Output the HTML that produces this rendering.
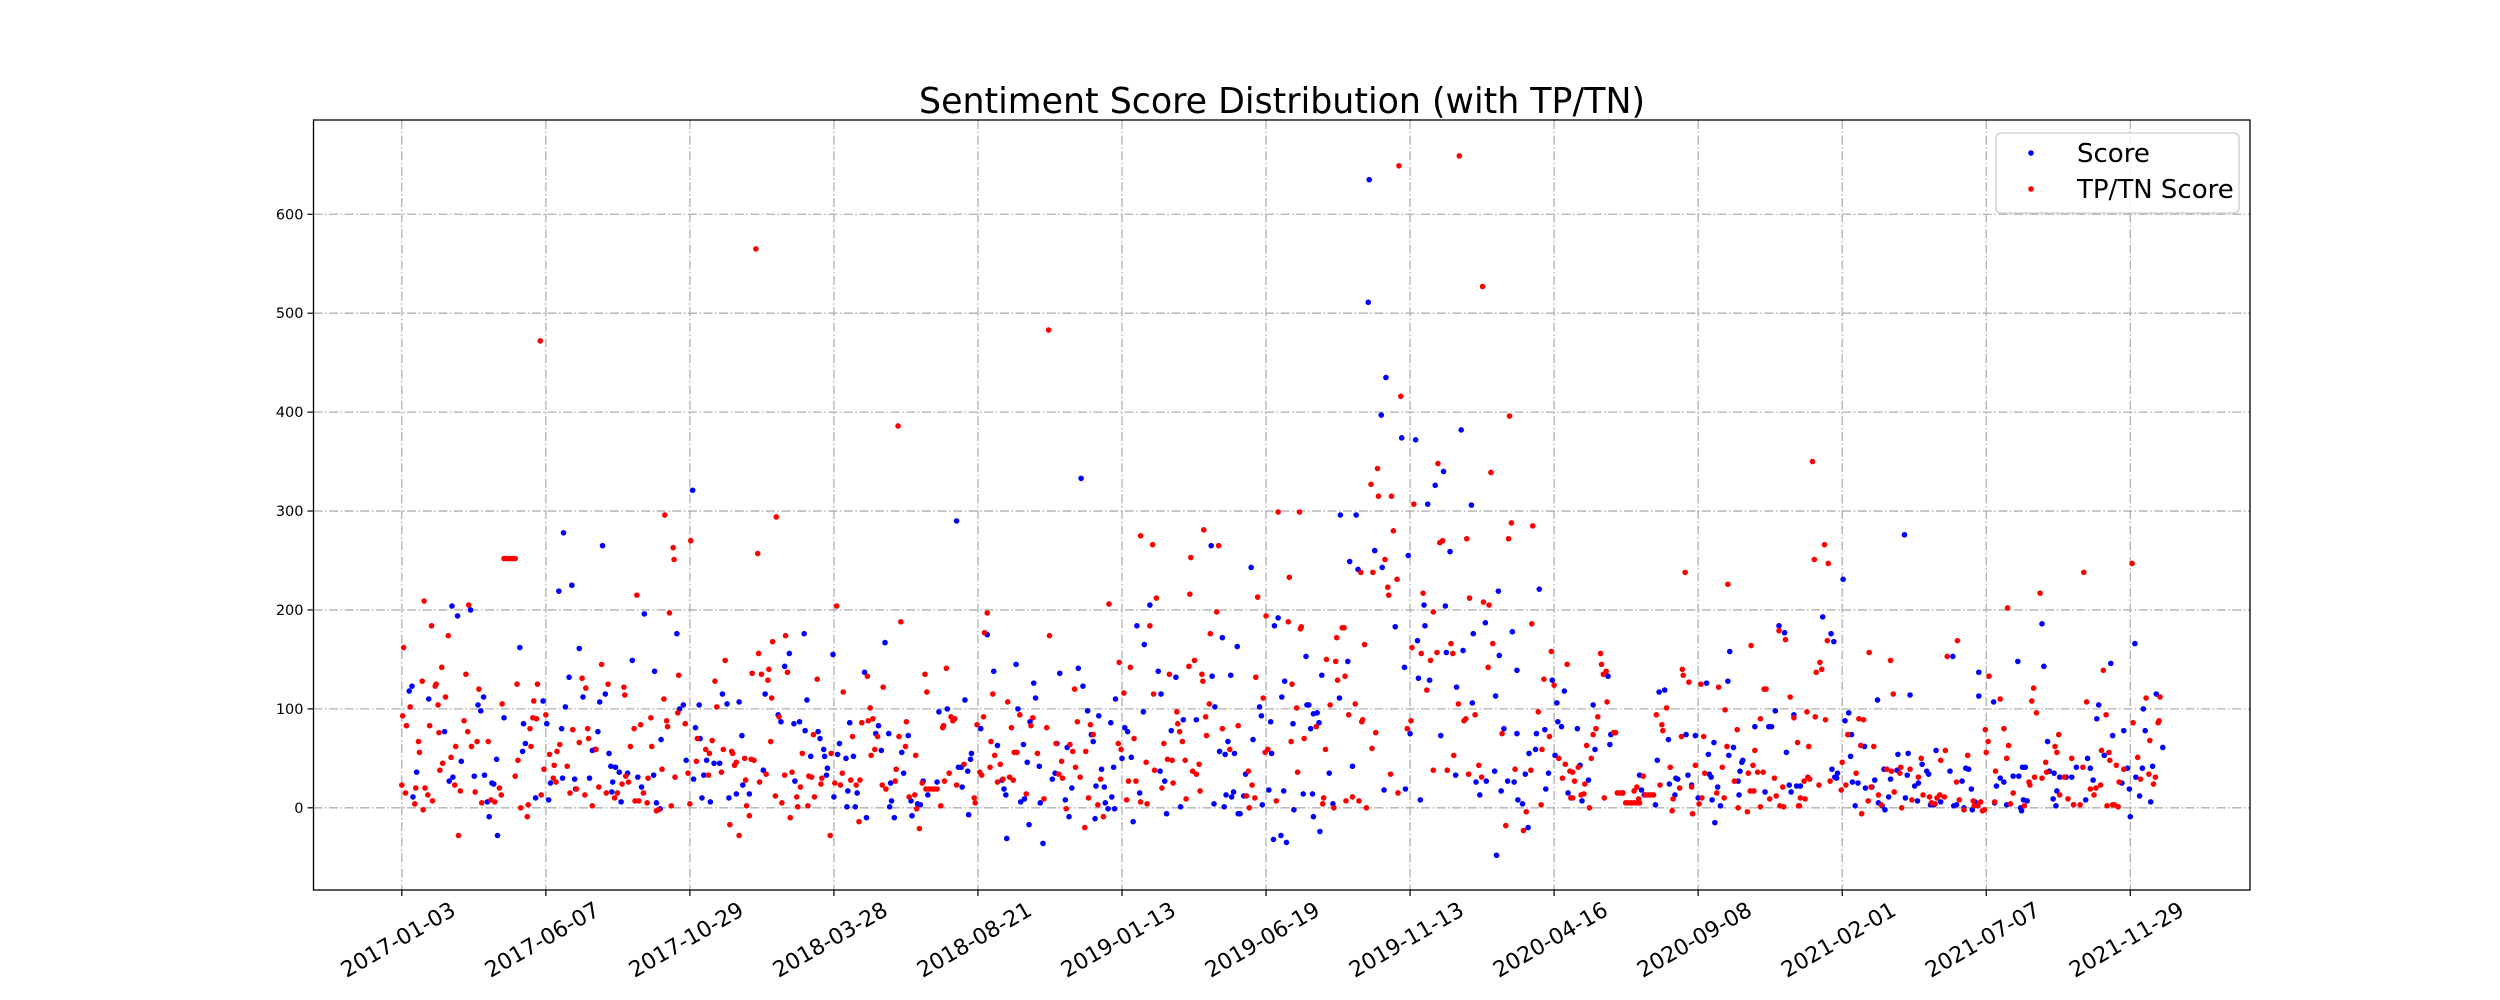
<!DOCTYPE html>
<html><head><meta charset="utf-8"><title>Sentiment Score Distribution</title>
<style>html,body{margin:0;padding:0;background:#fff;}svg{display:block;font-family:"DejaVu Sans","Liberation Sans",sans-serif;}</style>
</head><body>
<svg id="chart" width="2500" height="1000" viewBox="0 0 2500 1000" xmlns="http://www.w3.org/2000/svg">
<rect x="0" y="0" width="2500" height="1000" fill="#fff"/>
<text x="1282" y="113" font-size="36" text-anchor="middle" textLength="726" lengthAdjust="spacingAndGlyphs" fill="#000">Sentiment Score Distribution (with TP/TN)</text>
<g id="grid"></g>
<g id="axes"></g>
<g id="score-series"></g>
<g id="tptn-series"></g>
<g>
<rect x="1996" y="133" width="243" height="80" rx="5" fill="#fff" fill-opacity="0.8" stroke="#cccccc" stroke-width="1.3"/>
<circle cx="2031" cy="153" r="2.8" fill="#0000ff"/>
<text x="2077" y="162" font-size="26" fill="#000">Score</text>
<circle cx="2031" cy="189" r="2.8" fill="#ff0000"/>
<text x="2077" y="198" font-size="26" fill="#000">TP/TN Score</text>
</g>
</svg>
<script>
const tickLabels = ["2017-01-03","2017-06-07","2017-10-29","2018-03-28","2018-08-21","2019-01-13","2019-06-19","2019-11-13","2020-04-16","2020-09-08","2021-02-01","2021-07-07","2021-11-29"];
const tickIndexStep = 155;
const yTicks = [0,100,200,300,400,500,600];
const scorePoints = [
[8,118],[11,123],[12,11],[16,36],[29,110],[46,77],[51,27],[54,204],[55,31],[60,194],[64,47],[74,200],[78,32],[82,104],[85,98],[88,112],[89,33],[92,6],[94,-9],[97,25],[99,24],[102,49],[103,-28],[110,91],[127,162],[130,57],[131,85],[133,65],[144,10],[152,108],[156,85],[158,8],[160,25],[169,219],[172,80],[173,30],[174,278],[176,102],[180,132],[183,225],[186,29],[187,19],[191,161],[195,112],[202,30],[205,58],[208,59],[211,77],[213,107],[216,265],[219,115],[223,55],[225,42],[226,16],[227,26],[230,41],[234,36],[236,6],[243,35],[248,149],[254,31],[258,21],[261,196],[271,33],[272,138],[274,5],[278,-1],[279,69],[296,176],[299,100],
[303,104],[306,48],[313,321],[314,29],[316,81],[320,104],[321,70],[323,10],[325,33],[328,48],[332,6],[336,45],[342,45],[345,115],[350,105],[352,10],[360,14],[363,107],[366,73],[367,23],[374,14],[389,38],[391,115],[405,94],[408,87],[412,143],[417,156],[422,85],[423,27],[428,87],[433,176],[434,78],[436,109],[440,52],[448,77],[450,70],[454,59],[455,52],[457,33],[458,40],[464,155],[465,11],[469,54],[471,65],[478,50],[479,1],[480,17],[482,86],[486,52],[488,1],[490,15],[498,137],[500,-10],[510,75],[513,83],[516,58],[520,167],[524,75],[525,1],[526,25],[527,7],[530,-10],[538,56],[540,35],[545,73],[548,7],[549,-8],[555,4],[558,3],[561,27],[566,13],[576,26],[578,97],[587,100],[597,290],[599,41],
[602,41],[603,21],[606,109],[609,37],[610,-7],[612,49],[613,55],[623,80],[630,175],[637,138],[641,63],[646,28],[648,19],[650,13],[651,-31],[661,145],[663,100],[666,6],[669,64],[670,9],[673,46],[675,-17],[676,87],[680,126],[682,111],[686,42],[687,5],[690,-36],[700,29],[703,35],[705,65],[708,136],[714,8],[716,61],[718,-9],[721,20],[728,141],[731,333],[733,123],[738,98],[742,74],[744,67],[746,-11],[747,22],[750,93],[753,39],[756,21],[757,5],[760,-1],[763,86],[764,11],[766,41],[767,-1],[768,110],[775,50],[778,81],[781,77],[785,51],[787,-14],[791,184],[794,15],[798,97],[799,165],[805,205],[814,138],[816,37],[817,115],[821,27],[823,-6],[828,78],[833,132],[838,1],[841,89],[855,89],[871,265],[872,133],[874,4],[875,102],[880,57],[883,172],[885,1],[886,54],[887,13],[889,67],[892,134],[893,11],[895,16],[896,55],[899,163],[900,-6],
[902,-6],[906,12],[908,34],[914,243],[916,69],[923,102],[925,93],[926,3],[933,18],[935,87],[936,55],[938,-32],[939,184],[943,192],[946,-28],[947,112],[949,17],[950,128],[952,-35],[959,85],[960,-2],[970,14],[973,153],[974,104],[976,104],[978,80],[980,14],[981,-9],[981,95],[985,96],[987,86],[988,-24],[990,134],[998,35],[1002,4],[1009,111],[1010,296],[1018,148],[1020,249],[1023,42],[1027,296],[1029,241],[1040,511],[1041,635],[1047,260],[1054,397],[1055,243],[1057,18],[1059,435],[1069,183],[1076,374],[1079,142],[1080,19],[1083,255],[1085,75],[1091,372],[1093,169],[1094,131],[1096,8],[1100,205],[1101,184],[1104,307],[1106,129],[1112,326],[1118,73],[1121,340],[1123,204],[1124,157],[1128,259],[1134,33],[1135,122],[1140,382],[1142,159],[1151,306],[1152,106],[1153,176],[1156,26],[1160,13],[1166,187],[1167,27],[1176,37],[1177,113],[1178,-48],[1180,219],[1181,154],[1183,17],[1186,80],[1190,27],[1195,178],[1197,26],[1200,75],[1200,139],[1201,8],
[1206,4],[1209,34],[1212,-20],[1213,55],[1220,59],[1221,75],[1224,221],[1230,79],[1231,19],[1234,35],[1238,129],[1241,53],[1243,106],[1244,87],[1248,82],[1251,118],[1255,15],[1265,80],[1268,43],[1270,7],[1277,28],[1282,104],[1284,59],[1298,133],[1300,64],[1301,74],[1306,76],[1314,15],[1332,33],[1334,18],[1337,13],[1349,3],[1351,48],[1353,117],[1359,119],[1363,69],[1364,24],[1370,13],[1371,30],[1373,29],[1382,74],[1384,33],[1388,23],[1392,73],[1395,10],[1404,126],[1406,54],[1407,34],[1409,31],[1410,8],[1412,66],[1413,-15],[1416,21],[1419,2],[1427,128],[1428,53],[1429,158],[1433,61],[1438,27],[1439,13],[1440,37],[1442,46],[1443,48],[1456,82],[1467,16],[1471,82],[1474,82],[1478,98],[1482,184],[1488,177],[1490,56],[1493,23],[1495,16],[1498,94],[1501,22],
[1505,22],[1529,193],[1538,176],[1541,168],[1539,39],[1542,31],[1544,30],[1545,35],[1551,231],[1553,88],[1557,96],[1559,52],[1560,74],[1561,26],[1564,2],[1567,25],[1574,62],[1575,20],[1582,21],[1585,28],[1588,109],[1589,5],[1593,2],[1595,39],[1596,-2],[1600,11],[1602,29],[1609,38],[1610,54],[1617,276],[1618,10],[1620,33],[1621,55],[1623,114],[1628,22],[1631,7],[1632,25],[1636,44],[1641,37],[1643,34],[1645,3],[1649,3],[1651,58],[1656,6],[1666,37],[1669,153],[1670,2],[1673,3],[1679,27],[1681,0],[1683,40],[1686,39],[1689,19],[1690,-2],[1693,6],[1697,137],[1697,113],[1713,107],[1714,5],[1716,22],[1720,30],[1724,26],[1727,3],[1734,32],[1740,32],[1739,148],[1742,0],[1743,-3],[1744,41],[1747,41],[1745,8],[1749,7],[1765,186],[1767,143],[1771,67],[1773,37],[1778,35],[1777,9],[1780,2],[1781,17],[1784,31],[1791,31],[1797,31],[1799,3],[1802,41],
[1812,8],[1814,50],[1817,40],[1820,28],[1824,90],[1826,104],[1832,53],[1839,146],[1841,73],[1851,25],[1853,78],[1857,40],[1859,19],[1860,-9],[1865,166],[1866,31],[1870,12],[1873,40],[1874,100],[1876,78],[1882,6],[1884,42],[1888,115],[1895,61]
];
const tptnPoints = [
[2,162],[0,23],[1,93],[4,15],[5,83],[9,102],[14,4],[15,20],[18,67],[19,56],[22,128],[23,-2],[24,209],[25,20],[28,13],[30,83],[32,184],[33,7],[36,123],[37,125],[39,104],[40,76],[41,38],[43,142],[44,45],[47,112],[50,174],[53,51],[57,23],[58,62],[61,-28],[63,17],[67,88],[69,135],[71,77],[72,205],[75,62],[79,16],[81,67],[83,120],[86,5],[93,67],[96,8],[100,6],[105,20],[107,13],[108,105],[110,252],[113,252],[116,252],[119,252],[122,252],[122,32],[124,125],[125,48],[128,0],[135,-9],[136,3],[138,80],[139,62],[141,91],[142,108],[145,90],[146,125],[149,472],[150,13],[153,39],[155,94],[159,54],[163,30],[164,43],[166,26],[167,57],[170,64],[178,42],[181,15],[184,79],[188,19],[191,66],[194,131],[197,13],[198,121],[200,80],[201,70],[205,2],[209,59],[212,21],[215,145],[220,15],[222,125],[229,10],[232,15],[237,24],[239,122],[240,114],[241,32],[244,26],[246,62],[250,80],[251,7],[253,215],[255,7],[257,84],[260,15],[264,5],[265,30],[268,91],[269,62],[274,-3],[276,-2],[280,39],[282,110],[283,296],[285,88],[286,82],[288,197],[290,2],[292,263],[293,251],[294,31],[297,96],[298,134],
[305,85],[308,35],[310,4],[311,270],[317,47],[318,70],[327,59],[330,33],[331,55],[334,68],[337,128],[339,102],[344,36],[346,59],[348,149],[353,-17],[355,57],[356,55],[358,43],[360,46],[363,-28],[369,50],[370,28],[371,2],[374,-8],[376,49],[377,136],[379,48],[381,565],[383,257],[384,156],[385,26],[387,135],[392,34],[394,129],[395,140],[397,67],[398,111],[399,168],[402,12],[403,294],[406,92],[409,5],[412,33],[413,174],[415,137],[418,-10],[420,36],[425,11],[426,1],[429,21],[431,55],[437,2],[438,32],[441,31],[443,74],[444,11],[447,130],[451,24],[452,30],[461,-28],[462,55],[466,25],[468,204],[472,23],[474,35],[475,117],[483,28],[485,72],[489,23],[492,-14],[493,28],[495,86],[501,133],[502,88],[504,101],[505,53],[507,90],[509,59],[512,72],[517,23],[518,122],[521,19],[531,27],[532,39],[534,386],[535,72],[537,188],[542,62],[543,87],[546,11],[552,13],[553,53],[554,-1],[557,-21],[560,25],[563,135],[564,19],[565,117],[567,19],[570,19],[573,19],[576,19],[580,2],[582,81],[583,83],[584,27],[586,141],[589,35],[591,92],[593,88],[595,90],[597,23],
[605,44],[616,10],[617,5],[619,84],[622,36],[624,33],[626,92],[627,177],[630,197],[633,41],[634,67],[636,115],[638,53],[641,26],[644,44],[647,29],[652,107],[654,31],[656,81],[658,28],[659,56],[662,56],[665,94],[672,14],[677,83],[679,91],[684,55],[691,9],[694,81],[696,483],[697,174],[704,65],[707,34],[710,47],[711,30],[715,-1],[719,64],[722,57],[724,120],[725,41],[727,87],[730,31],[735,-20],[736,57],[739,10],[741,84],[744,74],[749,3],[752,29],[755,-9],[761,206],[771,65],[772,147],[774,59],[777,116],[780,8],[782,27],[784,142],[788,70],[790,27],[795,6],[795,275],[801,46],[802,4],[805,184],[808,266],[809,115],[810,38],[812,212],[818,20],[820,65],[824,49],[826,135],[829,48],[830,25],[834,97],[835,85],[837,77],[840,67],[843,48],[844,9],[847,143],[848,216],[849,253],[851,37],[853,149],[855,34],[858,44],[859,17],[861,135],[862,128],[863,281],[865,92],[866,73],[869,105],[870,176],[877,198],[879,265],[883,80],[891,59],[900,83],
[909,12],[911,37],[912,0],[915,23],[918,10],[919,132],[921,213],[927,111],[929,56],[930,194],[932,59],[941,7],[943,299],[954,188],[955,233],[957,67],[958,125],[963,101],[964,36],[966,299],[967,181],[968,183],[971,70],[984,82],[991,4],[992,10],[994,59],[995,150],[999,104],[1003,0],[1005,148],[1006,172],[1007,129],[1012,182],[1014,182],[1015,133],[1016,7],[1019,94],[1023,11],[1026,105],[1030,7],[1032,238],[1033,87],[1034,89],[1036,165],[1038,0],[1043,327],[1044,60],[1045,238],[1048,76],[1050,343],[1051,315],[1058,251],[1061,223],[1062,215],[1064,34],[1065,315],[1067,280],[1071,231],[1072,15],[1073,649],[1075,416],[1082,80],[1086,88],[1087,162],[1089,307],[1097,156],[1099,217],[1103,119],[1107,149],[1110,198],[1110,38],[1114,157],[1115,348],[1117,268],[1120,270],[1125,38],[1129,166],[1131,156],[1132,53],[1137,105],[1138,659],[1143,88],[1145,90],[1146,272],[1148,34],[1149,212],[1155,94],[1159,43],[1162,31],[1163,527],[1164,208],[1169,142],[1170,205],[1172,339],[1174,166],[1184,75],[1188,-18],[1191,272],[1192,396],[1194,288],[1198,39],
[1207,-23],[1210,-4],[1215,38],[1216,186],[1217,285],[1223,97],[1226,3],[1227,59],[1229,130],[1235,72],[1237,158],[1240,124],[1245,50],[1249,30],[1252,44],[1254,145],[1257,37],[1260,36],[1258,10],[1260,10],[1262,27],[1266,41],[1269,13],[1272,14],[1273,24],[1275,63],[1278,0],[1280,50],[1282,74],[1285,80],[1287,92],[1290,156],[1291,145],[1293,135],[1296,138],[1294,10],[1297,107],[1304,76],[1306,76],[1308,15],[1311,15],[1314,15],[1317,5],[1320,5],[1323,5],[1326,5],[1329,5],[1332,5],[1326,17],[1329,21],[1331,9],[1336,32],[1338,13],[1341,13],[1344,13],[1347,13],[1350,94],[1354,23],[1356,84],[1357,78],[1361,101],[1365,41],[1367,-3],[1368,9],[1375,20],[1377,72],[1378,140],[1379,134],[1381,238],[1385,127],[1388,21],[1389,-6],[1392,43],[1396,4],[1398,125],[1399,10],[1401,72],[1402,35],[1415,15],[1417,122],[1421,41],[1423,10],[1424,99],[1426,62],[1427,226],[1434,27],[1437,79],[1438,0],[1448,-4],[1449,35],[1451,17],[1452,164],[1454,43],[1455,17],[1456,58],[1459,36],[1465,36],[1462,90],[1462,1],[1466,120],[1468,120],[1472,9],[1477,30],[1479,12],[1482,179],[1483,2],[1487,1],[1486,21],[1489,170],[1494,112],[1498,91],[1502,66],[1503,2],
[1504,2],[1505,10],[1509,27],[1510,9],[1512,97],[1513,31],[1515,29],[1514,62],[1518,350],[1520,251],[1521,92],[1522,137],[1525,23],[1526,147],[1528,140],[1531,266],[1532,89],[1534,169],[1535,247],[1537,27],[1549,18],[1550,46],[1554,23],[1556,74],[1565,35],[1568,90],[1573,89],[1570,63],[1571,-6],[1578,7],[1579,157],[1581,21],[1584,62],[1589,13],[1592,3],[1598,39],[1603,37],[1602,149],[1605,115],[1606,16],[1612,35],[1613,41],[1614,0],[1623,39],[1625,8],[1632,31],[1635,50],[1637,13],[1644,11],[1646,5],[1650,4],[1652,10],[1655,13],[1660,11],[1656,48],[1661,58],[1663,153],[1673,26],[1674,169],[1676,8],[1681,-2],[1685,53],[1691,7],[1692,2],[1696,2],[1699,6],[1701,-3],[1703,-2],[1704,79],[1705,56],[1707,67],[1708,133],[1714,6],[1715,37],[1720,110],[1724,80],[1727,50],[1728,202],[1729,63],[1731,4],[1734,15],[1746,2],[1751,26],[1752,23],[1754,108],[1756,121],[1757,31],[1759,96],[1763,217],[1765,30],[1769,46],[1770,36],[1779,62],[1781,56],[1783,74],[1784,13],[1789,31],[1793,9],[1797,50],[1799,3],
[1806,3],[1809,41],[1810,238],[1813,107],[1817,19],[1821,13],[1823,20],[1828,23],[1829,58],[1831,139],[1834,94],[1835,2],[1837,56],[1838,48],[1841,3],[1843,3],[1847,1],[1845,43],[1848,26],[1853,39],[1862,247],[1863,86],[1868,51],[1871,29],[1877,111],[1880,34],[1881,68],[1885,24],[1887,31],[1890,86],[1891,88],[1892,112]
];

const NS = "http://www.w3.org/2000/svg";
const plotLeft = 313.5, plotRight = 2250, plotTop = 120, plotBottom = 890;
const firstTickPx = 401.8, tickSpacingPx = 144.04;
const yZeroPx = 807.8, yPerUnit = 0.9892;
function xScale(i){ return firstTickPx + i * tickSpacingPx / tickIndexStep; }
function yScale(v){ return yZeroPx - v * yPerUnit; }
function mk(tag, attrs, parent){
  const el = document.createElementNS(NS, tag);
  for (const k in attrs) el.setAttribute(k, attrs[k]);
  parent.appendChild(el);
  return el;
}
const grid = document.getElementById('grid');
const axes = document.getElementById('axes');
const dash = "9,2.5,1.6,2.5";
tickLabels.forEach((lab, k) => {
  const x = xScale(k * tickIndexStep);
  const gl = mk('line', {x1:x, x2:x, y1:plotTop, y2:plotBottom, stroke:'#b0b0b0', 'stroke-width':1.3, 'stroke-dasharray':dash}, grid);
  
  
  const tm = mk('line', {x1:x, x2:x, y1:plotBottom, y2:plotBottom+6, stroke:'#000', 'stroke-width':1.2}, axes);
  
  
  const t = mk('text', {x:0, y:0, 'font-size':22, 'text-anchor':'middle', 'dominant-baseline':'middle', fill:'#000', transform:'translate(' + (x-3) + ',941) rotate(-30)'}, axes);
  t.textContent = lab;
  
  
});
yTicks.forEach(v => {
  const y = yScale(v);
  const gl = mk('line', {x1:plotLeft, x2:plotRight, y1:y, y2:y, stroke:'#b0b0b0', 'stroke-width':1.3, 'stroke-dasharray':dash}, grid);
  
  
  const tm = mk('line', {x1:plotLeft-6, x2:plotLeft, y1:y, y2:y, stroke:'#000', 'stroke-width':1.2}, axes);
  
  
  const t = mk('text', {x:plotLeft-10, y:y+5, 'font-size':14.5, 'text-anchor':'end', fill:'#000'}, axes);
  t.textContent = String(v);
  
  
});
const frame = mk('rect', {x:plotLeft, y:plotTop, width:plotRight-plotLeft, height:plotBottom-plotTop, fill:'none', stroke:'#000', 'stroke-width':1.3}, axes);



const sG = document.getElementById('score-series');
scorePoints.forEach(p => {
  const c = mk('circle', {cx:xScale(p[0]), cy:yScale(p[1]), r:2.8, fill:'#0000ff'}, sG);
  
  
});
const tG = document.getElementById('tptn-series');
tptnPoints.forEach(p => {
  const c = mk('circle', {cx:xScale(p[0]), cy:yScale(p[1]), r:2.8, fill:'#ff0000'}, tG);
  
  
});
</script>
</body></html>
